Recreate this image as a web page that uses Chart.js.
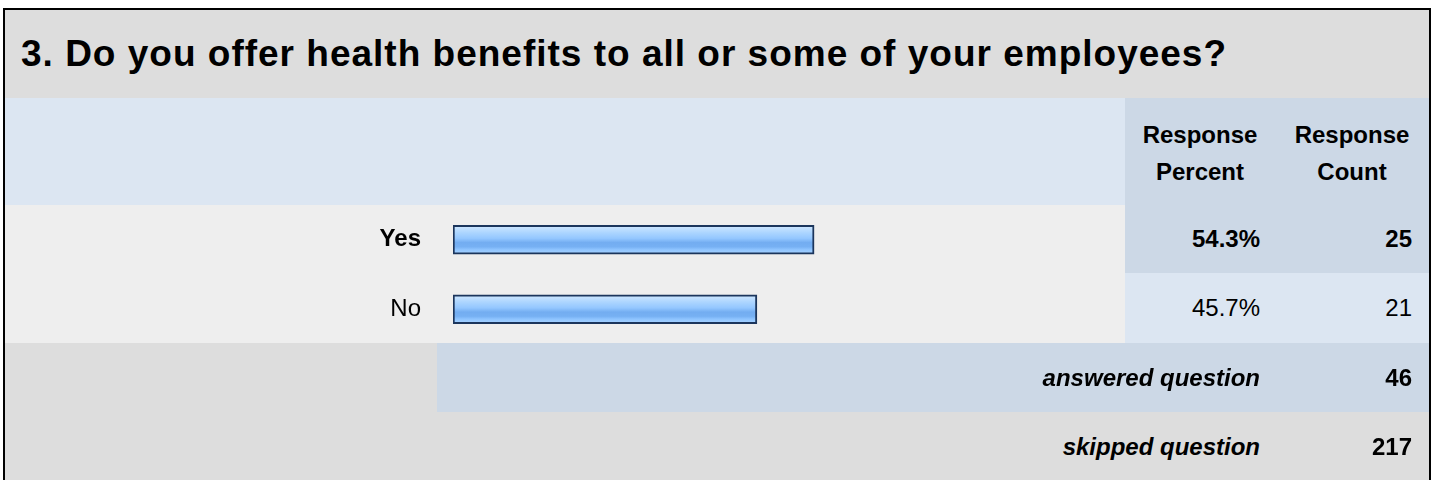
<!DOCTYPE html>
<html>
<head>
<meta charset="utf-8">
<script src="https://cdn.jsdelivr.net/npm/chart.js@4"></script>
<style>
body{margin:0;width:1432px;height:480px;overflow:hidden;background:#fff;font-family:"Liberation Sans",Arial,sans-serif;}
.abs{position:absolute;box-sizing:border-box;}
#frame{left:3px;top:8px;width:1428px;height:476px;border:2px solid #000;}
#title{left:5px;top:10px;width:1424px;height:88px;background:#dddddd;font-size:37px;font-weight:bold;letter-spacing:1px;padding-left:16px;line-height:88px;}
.txt{font-size:24px;color:#000;}
.b{font-weight:bold;}
.bi{font-weight:bold;font-style:italic;}
#chartbox{left:5px;top:205px;width:1120px;height:139px;}
</style>
</head>
<body>
<div class="abs" id="title"></div>
<div class="abs" style="left:5px;top:98px;width:1120px;height:107px;background:#dce6f2"></div>
<div class="abs" style="left:1125px;top:98px;width:304px;height:107px;background:#ccd8e6"></div>
<div class="abs" style="left:5px;top:205px;width:1120px;height:138px;background:#eeeeee"></div>
<div class="abs" style="left:1125px;top:205px;width:304px;height:68px;background:#ccd8e6"></div>
<div class="abs" style="left:1125px;top:273px;width:304px;height:70px;background:#dce6f2"></div>
<div class="abs" style="left:5px;top:343px;width:432px;height:69px;background:#dddddd"></div>
<div class="abs" style="left:437px;top:343px;width:992px;height:69px;background:#ccd8e6"></div>
<div class="abs" style="left:5px;top:412px;width:1424px;height:70px;background:#dddddd"></div>
<div class="abs" id="chartbox"><canvas id="bars"></canvas></div>
<div id="cells"></div>
<div class="abs" id="frame"></div>
<script>
const question = '3. Do you offer health benefits to all or some of your employees?';
const categories = ['Yes', 'No'];
const percents = [54.3, 45.7];
const counts = [25, 21];
const headers = [['Response', 'Percent'], ['Response', 'Count']];
const summaryLabels = ['answered question', 'skipped question'];
const summaryCounts = [46, 217];

document.getElementById('title').textContent = question;

// table text
const cells = document.getElementById('cells');
function cell(text, cls, left, top, width, height, align) {
    const d = document.createElement('div');
    d.className = 'abs txt ' + cls;
    d.style.cssText = 'left:' + left + 'px;top:' + top + 'px;width:' + width + 'px;height:' + height + 'px;line-height:' + height + 'px;text-align:' + align + ';';
    d.textContent = text;
    cells.appendChild(d);
}
const colX = [1125, 1275];
const colW = [135, 137];
headers.forEach((h, i) => {
    cell(h[0], 'b', colX[i], 115, 150 + i * 4, 40, 'center');
    cell(h[1], 'b', colX[i], 152, 150 + i * 4, 40, 'center');
});
const rowTop = [205, 273];
const rowH = [68, 70];
categories.forEach((c, i) => {
    const cls = i === 0 ? 'b' : '';
    cell(percents[i].toFixed(1) + '%', cls, colX[0], rowTop[i], colW[0], rowH[i], 'right');
    cell(String(counts[i]), cls, colX[1], rowTop[i], colW[1], rowH[i], 'right');
});
const sumTop = [343, 412];
summaryLabels.forEach((s, i) => {
    cell(s, 'bi', 437, sumTop[i], 823, 69, 'right');
    cell(String(summaryCounts[i]), 'b', colX[1], sumTop[i], colW[1], 69, 'right');
});

const ctx1 = document.getElementById('bars').getContext('2d');
const myBarChart = new Chart(ctx1, {
    type: 'bar',
    data: {
        labels: categories,
        datasets: [{
            data: percents,
            backgroundColor: function (c) {
                const ys = c.chart.scales.y;
                if (!ys || c.dataIndex === undefined) return '#8cc0fb';
                const cy = ys.getPixelForValue(c.dataIndex);
                if (!Number.isFinite(cy)) return '#8cc0fb';
                const g = c.chart.ctx.createLinearGradient(0, cy - 14, 0, cy + 14);
                g.addColorStop(0, '#cfe7ff');
                g.addColorStop(0.25, '#acd5ff');
                g.addColorStop(0.45, '#94c7ff');
                g.addColorStop(0.6, '#73adf1');
                g.addColorStop(0.75, '#76b0f3');
                g.addColorStop(0.85, '#8ec4ff');
                g.addColorStop(1, '#a8d3ff');
                return g;
            },
            borderColor: '#1b355c',
            borderWidth: 2,
            borderSkipped: false,
            barThickness: 29
        }]
    },
    options: {
        indexAxis: 'y',
        responsive: true,
        maintainAspectRatio: false,
        animation: false,
        layout: {padding: {left: 0, right: 7, top: 0, bottom: 0}},
        plugins: {legend: {display: false}, tooltip: {enabled: false}},
        scales: {
            x: {display: false, min: 0, max: 100},
            y: {
                grid: {display: false, drawTicks: false},
                border: {display: false},
                afterFit: function (scale) {
                    scale.width = 448;
                    scale.paddingTop = 0;
                    scale.paddingBottom = 0;
                },
                ticks: {
                    color: '#000',
                    padding: 32,
                    font: function (c) {
                        return {family: '"Liberation Sans", Arial, sans-serif', size: 24, weight: c.index === 0 ? 'bold' : 'normal'};
                    }
                }
            }
        }
    }
});
</script>
</body>
</html>
